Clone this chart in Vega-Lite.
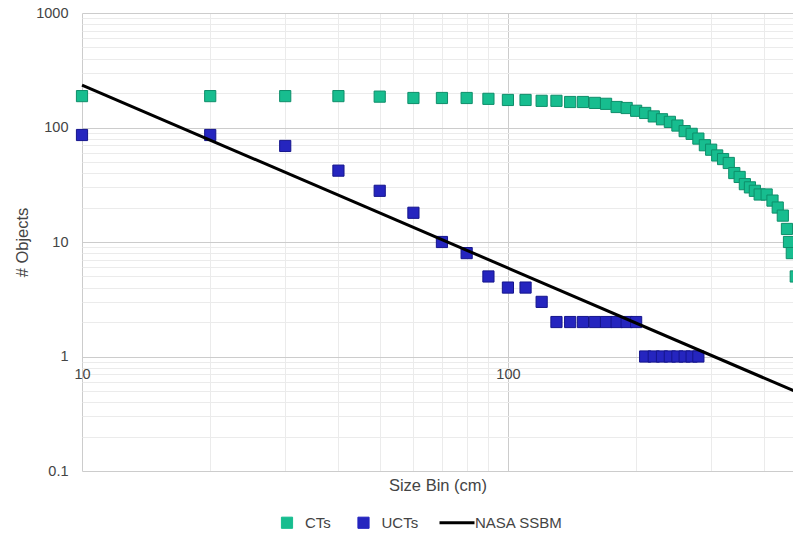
{
  "$schema": "https://vega.github.io/schema/vega-lite/v6.json",
  "autosize": "none",
  "width": 711,
  "height": 458,
  "padding": {"left": 82, "top": 13, "right": 0, "bottom": 66},
  "background": "white",
  "config": {
    "font": "Liberation Sans",
    "view": {"stroke": null},
    "axis": {"labelColor": "#444444", "titleColor": "#444444", "titleFontWeight": "normal", "labelFontSize": 14.5, "titleFontSize": 16.5}
  },
  "data": {
    "values": [
      {"series": "CTs", "size": 10, "count": 188},
      {"series": "CTs", "size": 20, "count": 188},
      {"series": "CTs", "size": 30, "count": 188},
      {"series": "CTs", "size": 40, "count": 188},
      {"series": "CTs", "size": 50, "count": 186},
      {"series": "CTs", "size": 60, "count": 181},
      {"series": "CTs", "size": 70, "count": 181},
      {"series": "CTs", "size": 80, "count": 181},
      {"series": "CTs", "size": 90, "count": 178},
      {"series": "CTs", "size": 100, "count": 174},
      {"series": "CTs", "size": 110, "count": 174},
      {"series": "CTs", "size": 120, "count": 171},
      {"series": "CTs", "size": 130, "count": 171},
      {"series": "CTs", "size": 140, "count": 167},
      {"series": "CTs", "size": 150, "count": 167},
      {"series": "CTs", "size": 160, "count": 164},
      {"series": "CTs", "size": 170, "count": 161},
      {"series": "CTs", "size": 180, "count": 151},
      {"series": "CTs", "size": 190, "count": 148},
      {"series": "CTs", "size": 200, "count": 140},
      {"series": "CTs", "size": 210, "count": 134},
      {"series": "CTs", "size": 220, "count": 125},
      {"series": "CTs", "size": 230, "count": 118},
      {"series": "CTs", "size": 240, "count": 112},
      {"series": "CTs", "size": 250, "count": 104},
      {"series": "CTs", "size": 260, "count": 93},
      {"series": "CTs", "size": 270, "count": 88},
      {"series": "CTs", "size": 280, "count": 80},
      {"series": "CTs", "size": 290, "count": 70},
      {"series": "CTs", "size": 300, "count": 64},
      {"series": "CTs", "size": 310, "count": 57},
      {"series": "CTs", "size": 320, "count": 53},
      {"series": "CTs", "size": 330, "count": 49},
      {"series": "CTs", "size": 340, "count": 40},
      {"series": "CTs", "size": 350, "count": 37},
      {"series": "CTs", "size": 360, "count": 32},
      {"series": "CTs", "size": 370, "count": 30},
      {"series": "CTs", "size": 380, "count": 28},
      {"series": "CTs", "size": 390, "count": 26},
      {"series": "CTs", "size": 405, "count": 26},
      {"series": "CTs", "size": 418, "count": 23},
      {"series": "CTs", "size": 430, "count": 20},
      {"series": "CTs", "size": 442, "count": 17},
      {"series": "CTs", "size": 452, "count": 13},
      {"series": "CTs", "size": 457, "count": 10},
      {"series": "CTs", "size": 464, "count": 8},
      {"series": "CTs", "size": 474, "count": 5},
      {"series": "UCTs", "size": 10, "count": 86},
      {"series": "UCTs", "size": 20, "count": 86},
      {"series": "UCTs", "size": 30, "count": 69},
      {"series": "UCTs", "size": 40, "count": 42},
      {"series": "UCTs", "size": 50, "count": 28},
      {"series": "UCTs", "size": 60, "count": 18},
      {"series": "UCTs", "size": 70, "count": 10},
      {"series": "UCTs", "size": 80, "count": 8},
      {"series": "UCTs", "size": 90, "count": 5},
      {"series": "UCTs", "size": 100, "count": 4},
      {"series": "UCTs", "size": 110, "count": 4},
      {"series": "UCTs", "size": 120, "count": 3},
      {"series": "UCTs", "size": 130, "count": 2},
      {"series": "UCTs", "size": 140, "count": 2},
      {"series": "UCTs", "size": 150, "count": 2},
      {"series": "UCTs", "size": 160, "count": 2},
      {"series": "UCTs", "size": 170, "count": 2},
      {"series": "UCTs", "size": 180, "count": 2},
      {"series": "UCTs", "size": 190, "count": 2},
      {"series": "UCTs", "size": 200, "count": 2},
      {"series": "UCTs", "size": 210, "count": 1},
      {"series": "UCTs", "size": 220, "count": 1},
      {"series": "UCTs", "size": 230, "count": 1},
      {"series": "UCTs", "size": 240, "count": 1},
      {"series": "UCTs", "size": 250, "count": 1},
      {"series": "UCTs", "size": 260, "count": 1},
      {"series": "UCTs", "size": 270, "count": 1},
      {"series": "UCTs", "size": 280, "count": 1},
      {"series": "NASA SSBM", "size": 10, "count": 235},
      {"series": "NASA SSBM", "size": 470, "count": 0.5}
    ]
  },
  "encoding": {
    "y": {
      "field": "count",
      "type": "quantitative",
      "scale": {"type": "log", "domain": [0.1, 1000], "nice": false},
      "axis": {
        "title": "# Objects",
        "titleX": -60,
        "titleY": 229,
        "titleAngle": -90,
        "titleBaseline": "middle",
        "titleAnchor": "middle",
        "values": [0.1, 0.2, 0.3, 0.4, 0.5, 0.6, 0.7, 0.8, 0.9, 1, 2, 3, 4, 5, 6, 7, 8, 9, 10, 20, 30, 40, 50, 60, 70, 80, 90, 100, 200, 300, 400, 500, 600, 700, 800, 900, 1000],
        "format": "~g",
        "labelExpr": "(datum.value == 0.1 || datum.value == 1 || datum.value == 10 || datum.value == 100 || datum.value == 1000) ? datum.label : ''",
        "labelPadding": 14,
        "ticks": false,
        "domain": false,
        "grid": true,
        "gridColor": {"condition": {"test": "datum.value == 0.1 || datum.value == 1 || datum.value == 10 || datum.value == 100 || datum.value == 1000", "value": "#cccccc"}, "value": "#ebebeb"},
        "gridWidth": 1
      }
    },
    "color": {
      "field": "series",
      "type": "nominal",
      "scale": {"domain": ["CTs", "UCTs", "NASA SSBM"], "range": ["#17bd8f", "#2525bf", "#000000"]},
      "legend": {
        "title": null,
        "orient": "none",
        "legendX": 187.5,
        "legendY": 502,
        "direction": "horizontal",
        "padding": 0,
        "symbolOffset": 10,
        "labelOffset": 10.5,
        "columnPadding": 14.5,
        "labelFontSize": 15,
        "labelColor": "#444444",
        "encode": {
          "symbols": {
            "update": {
              "shape": {"signal": "datum.value === 'NASA SSBM' ? 'stroke' : 'square'"},
              "size": {"signal": "datum.value === 'NASA SSBM' ? 1225 : 125"},
              "strokeWidth": {"signal": "datum.value === 'NASA SSBM' ? 3 : 1"},
              "stroke": {"signal": "datum.value === 'NASA SSBM' ? '#000000' : (datum.value === 'CTs' ? '#0e8e6a' : '#15158c')"},
              "fill": {"signal": "datum.value === 'NASA SSBM' ? 'transparent' : (datum.value === 'CTs' ? '#17bd8f' : '#2525bf')"},
              "opacity": {"value": 1},
              "fillOpacity": {"value": 1},
              "strokeOpacity": {"value": 1}
            }
          }
        }
      }
    }
  },
  "layer": [
    {
      "transform": [{"filter": "datum.series != 'NASA SSBM'"}],
      "mark": {"type": "point", "shape": "square", "filled": true, "size": 125, "opacity": 1, "strokeWidth": 1},
      "encoding": {
        "x": {
          "field": "size",
          "type": "quantitative",
          "scale": {"type": "log", "domain": [10, 467], "nice": false, "zero": false},
          "axis": {
            "orient": "bottom",
            "title": "Size Bin (cm)",
            "titlePadding": 6,
            "values": [10, 20, 30, 40, 50, 60, 70, 80, 90, 100, 200, 300, 400],
            "labels": false,
            "ticks": false,
            "domain": false,
            "grid": true,
            "gridColor": {"condition": {"test": "datum.value == 10 || datum.value == 100", "value": "#cccccc"}, "value": "#ebebeb"}
          }
        },
        "stroke": {
          "field": "series",
          "type": "nominal",
          "scale": {"domain": ["CTs", "UCTs", "NASA SSBM"], "range": ["#0e8e6a", "#15158c", "#000000"]},
          "legend": null
        }
      }
    },
    {
      "transform": [{"filter": "datum.series == 'NASA SSBM'"}],
      "mark": {"type": "line", "strokeWidth": 3},
      "encoding": {
        "x": {
          "field": "size",
          "type": "quantitative",
          "scale": {"type": "log", "domain": [10, 467], "nice": false, "zero": false},
          "axis": {
            "orient": "bottom",
            "title": null,
            "values": [10, 100],
            "format": "~g",
            "labelFlush": false,
            "labelPadding": -104,
            "ticks": false,
            "domain": false,
            "grid": false
          }
        }
      }
    }
  ],
  "resolve": {"axis": {"x": "independent"}}
}
